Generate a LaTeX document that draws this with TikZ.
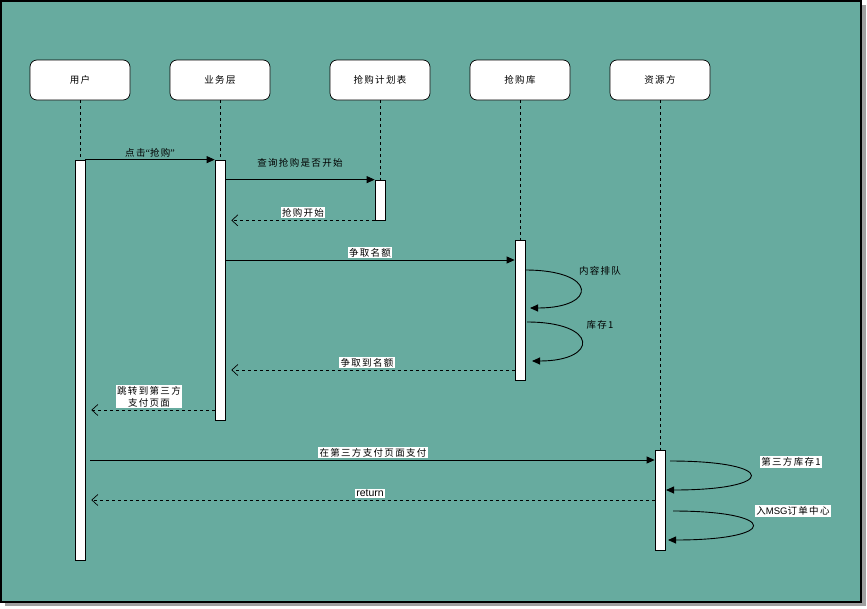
\documentclass[tikz,border=0pt]{standalone}
\usepackage{fontspec}
\setmainfont{Liberation Sans}
\newfontfamily\cjk[LetterSpace=14]{Noto Sans CJK SC}
\newfontfamily\quotefont{Liberation Serif}
\usetikzlibrary{arrows.meta}
\definecolor{bgteal}{HTML}{67AB9F}
\definecolor{shadowgray}{HTML}{A0A0A0}

\begin{document}
\begin{tikzpicture}[x=1pt,y=-1pt,
  font=\cjk\fontsize{9.5}{12}\selectfont,
  actor/.style={draw, fill=white, rounded corners=7pt, minimum width=100pt, minimum height=40pt, line width=0.7pt},
  actbar/.style={draw, fill=white, minimum width=10pt, inner sep=0pt, line width=0.7pt},
  life/.style={dashed, dash pattern=on 3pt off 3pt, line width=0.6pt},
  call/.style={line width=0.8pt, -{Triangle[length=8pt,width=7pt]}},
  reply/.style={line width=0.8pt, dash pattern=on 3pt off 3pt, -{Straight Barb[length=6pt,width=11pt,line width=0.7pt]}, shorten >=6pt},
  selfcall/.style={line width=0.9pt, -{Triangle[length=8pt,width=7pt]}},
  lbl/.style={fill=white, inner sep=1.2pt},
  plain/.style={inner sep=1pt}
]
\useasboundingbox (0,0) rectangle (867,608);
% page, shadow and frame
\fill[white] (0,0) rectangle (867,608);
\fill[shadowgray] (5,5) rectangle (866,606);
\draw[fill=bgteal, line width=1.2pt] (1,1) rectangle (861,602);

% participants
\node[actor] (user) at (80,80) {用户};
\node[actor] (biz)  at (220,80) {业务层};
\node[actor] (plan) at (380,80) {抢购计划表};
\node[actor] (lib)  at (520,80) {抢购库};
\node[actor] (res)  at (660,80) {资源方};

% activation bars
\node[actbar, minimum height=400pt] (userA) at (80,360) {};
\node[actbar, minimum height=260pt] (bizA)  at (220,290) {};
\node[actbar, minimum height=40pt]  (planA) at (380,200) {};
\node[actbar, minimum height=140pt] (libA)  at (520,310) {};
\node[actbar, minimum height=100pt] (resA)  at (660,500) {};

% lifelines
\draw[life] (user.south) -- (userA.north);
\draw[life] (biz.south)  -- (bizA.north);
\draw[life] (plan.south) -- (planA.north);
\draw[life] (lib.south)  -- (libA.north);
\draw[life] (res.south)  -- (resA.north);

% message heights
\coordinate (y4)  at (0,260);
\coordinate (y7)  at (0,370);
\coordinate (y8)  at (0,410);
\coordinate (y9)  at (0,460);
\coordinate (y10) at (0,500);

% messages
\draw[call] (userA.north east) -- node[plain, above=1pt] {点击{\quotefont\fontsize{10}{12}\selectfont “}抢购{\quotefont\fontsize{10}{12}\selectfont ”}} (bizA.north west);
\draw[call] (bizA.east |- planA.north) -- node[plain, above=11pt] {查询抢购是否开始} (planA.north west);
\draw[reply] (planA.south west) -- node[lbl, above=1.5pt, xshift=3pt] {抢购开始} (bizA.east |- planA.south);
\draw[call] (bizA.east |- y4) -- node[lbl, above=1.5pt] {争取名额} (libA.west |- y4);
\draw[reply] (libA.west |- y7) -- node[lbl, above=1.5pt, xshift=-3pt] {争取到名额} (bizA.east |- y7);
\draw[reply] (bizA.west |- y8) -- node[lbl, above=1.5pt, align=center, xshift=-1pt] {跳转到第三方\\支付页面} (userA.east |- y8);
\draw[call, shorten <=5pt] (userA.east |- y9) -- node[lbl, above=1.5pt, xshift=3pt] {在第三方支付页面支付} (resA.west |- y9);
\draw[reply] (resA.west |- y10) -- node[lbl, above=1.5pt, font=\fontsize{10.5}{12}\selectfont] {return} (userA.east |- y10);

% self calls on the stock library
\coordinate (s1a) at (525,270);
\coordinate (s1b) at (530,308);
\coordinate (s2a) at (527,322);
\coordinate (s2b) at (532,361);
\draw[selfcall] (s1a) .. controls (598,270) and (598,308) .. (s1b);
\draw[selfcall] (s2a) .. controls (599,322) and (599,361) .. (s2b);
\node[plain] (q1) at (600,271) {内容排队};
\node[plain] (q2) at (600,325) {库存1};

% self calls on the resource side
\coordinate (r1a) at (670,461);
\coordinate (r1b) at (666,490);
\coordinate (r2a) at (673,511);
\coordinate (r2b) at (668,540);
\draw[selfcall] (r1a) .. controls (778,461) and (778,490) .. (r1b);
\draw[selfcall] (r2a) .. controls (780,511) and (780,540) .. (r2b);
\node[lbl] (q3) at (791,462) {第三方库存1};
\node[lbl] (q4) at (793,511) {入\fontspec{Liberation Sans}MSG\cjk 订单中心};
\end{tikzpicture}
\end{document}
